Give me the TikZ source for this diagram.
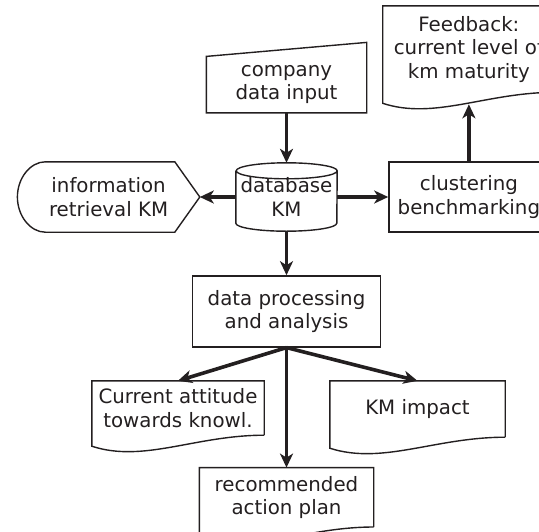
\documentclass[tikz,border=0pt]{standalone}
\usepackage{fontspec}
\setmainfont{DejaVu Sans}
\usepackage{tikz}
\usetikzlibrary{positioning, arrows.meta, calc}
\definecolor{ink}{HTML}{231F20}
\tikzset{
  flow/.style={-{Stealth[length=14pt,width=13pt,inset=4pt]}, line width=3.6pt, draw=ink},
  outline/.style={draw=ink, line width=1.4pt},
  txt/.style={
    align=center, inner sep=0pt, text=ink,
    font=\fontsize{19.8}{23.5}\selectfont
  },
  plainbox/.style={txt, outline},
  docbox/.style={txt},
}

\begin{document}
\begin{tikzpicture}[x=1pt, y=-1pt]
  \useasboundingbox (0,0) rectangle (539,531);
  \clip (0,0) rectangle (539,531);

  \node[txt, minimum width=101pt, minimum height=68pt] (db) at (286.5,197) {database\\KM};
  \node[txt, minimum width=160pt, minimum height=56pt, above=50pt of db] (input) {company\\data input};
  \node[txt, minimum width=182pt, minimum height=70pt, left=36pt of db] (retr) {information\\retrieval KM};
  \node[plainbox, minimum width=160pt, minimum height=70pt, right=51pt of db] (clus) {clustering\\benchmarking};
  \node[docbox, minimum width=172pt, minimum height=86pt, above=69pt of clus] (fback) {Feedback:\\current level of\\km maturity};
  \node[plainbox, minimum width=188pt, minimum height=71pt, below=44pt of db] (proc) {data processing\\and analysis};
  \node[docbox, minimum width=172pt, minimum height=54pt] (attit) at (178,408) {Current attitude\\towards knowl.};
  \node[docbox, minimum width=175pt, minimum height=56pt] (impact) at (417.5,409) {KM impact};
  \node[docbox, minimum width=174pt, minimum height=59pt, below=120pt of proc] (plan) {recommended\\action plan};
  \coordinate (fbtip) at ($(fback.south)+(0,12)$);

  % outlines of the special shapes
  \draw[outline] (input.south west) -- (input.north west)
    -- ([yshift=14pt]input.north east) -- (input.south east) -- cycle;
  \draw[outline] ([yshift=-8pt]db.north west) -- ([yshift=8pt]db.south west)
    arc[start angle=180, end angle=360, x radius=50.5pt, y radius=8pt]
    -- ([yshift=-8pt]db.north east)
    arc[start angle=0, end angle=360, x radius=50.5pt, y radius=8pt];
  \draw[outline] ([xshift=28pt]retr.north west) -- ([xshift=-25pt]retr.north east)
    -- (retr.east) -- ([xshift=-25pt]retr.south east) -- ([xshift=28pt]retr.south west)
    .. controls ([xshift=13pt]retr.south west) and ([yshift=-19pt]retr.west) .. (retr.west)
    .. controls ([yshift=19pt]retr.west) and ([xshift=13pt]retr.north west) .. ([xshift=28pt]retr.north west)
    -- cycle;
  \foreach \n in {attit, impact, plan, fback} {
    \draw[outline] (\n.south east) -- (\n.north east) -- (\n.north west)
      -- ([yshift=-11pt]\n.south west)
      .. controls ($(\n.south west)!0.3!(\n.south east)+(0,28)$)
      and ($(\n.south west)!0.6!(\n.south east)$) .. (\n.south east);
  }

  \draw[flow] (input) -- (db);
  \draw[flow] (db) -- (retr);
  \draw[flow] (db) -- (clus);
  \draw[flow] (clus) -- (fbtip);
  \draw[flow] (db) -- (proc);
  \draw[flow] (proc.south) -- (attit.north);
  \draw[flow] (proc.south) -- (impact.north);
  \draw[flow] (proc.south) -- (plan.north);
\end{tikzpicture}
\end{document}
